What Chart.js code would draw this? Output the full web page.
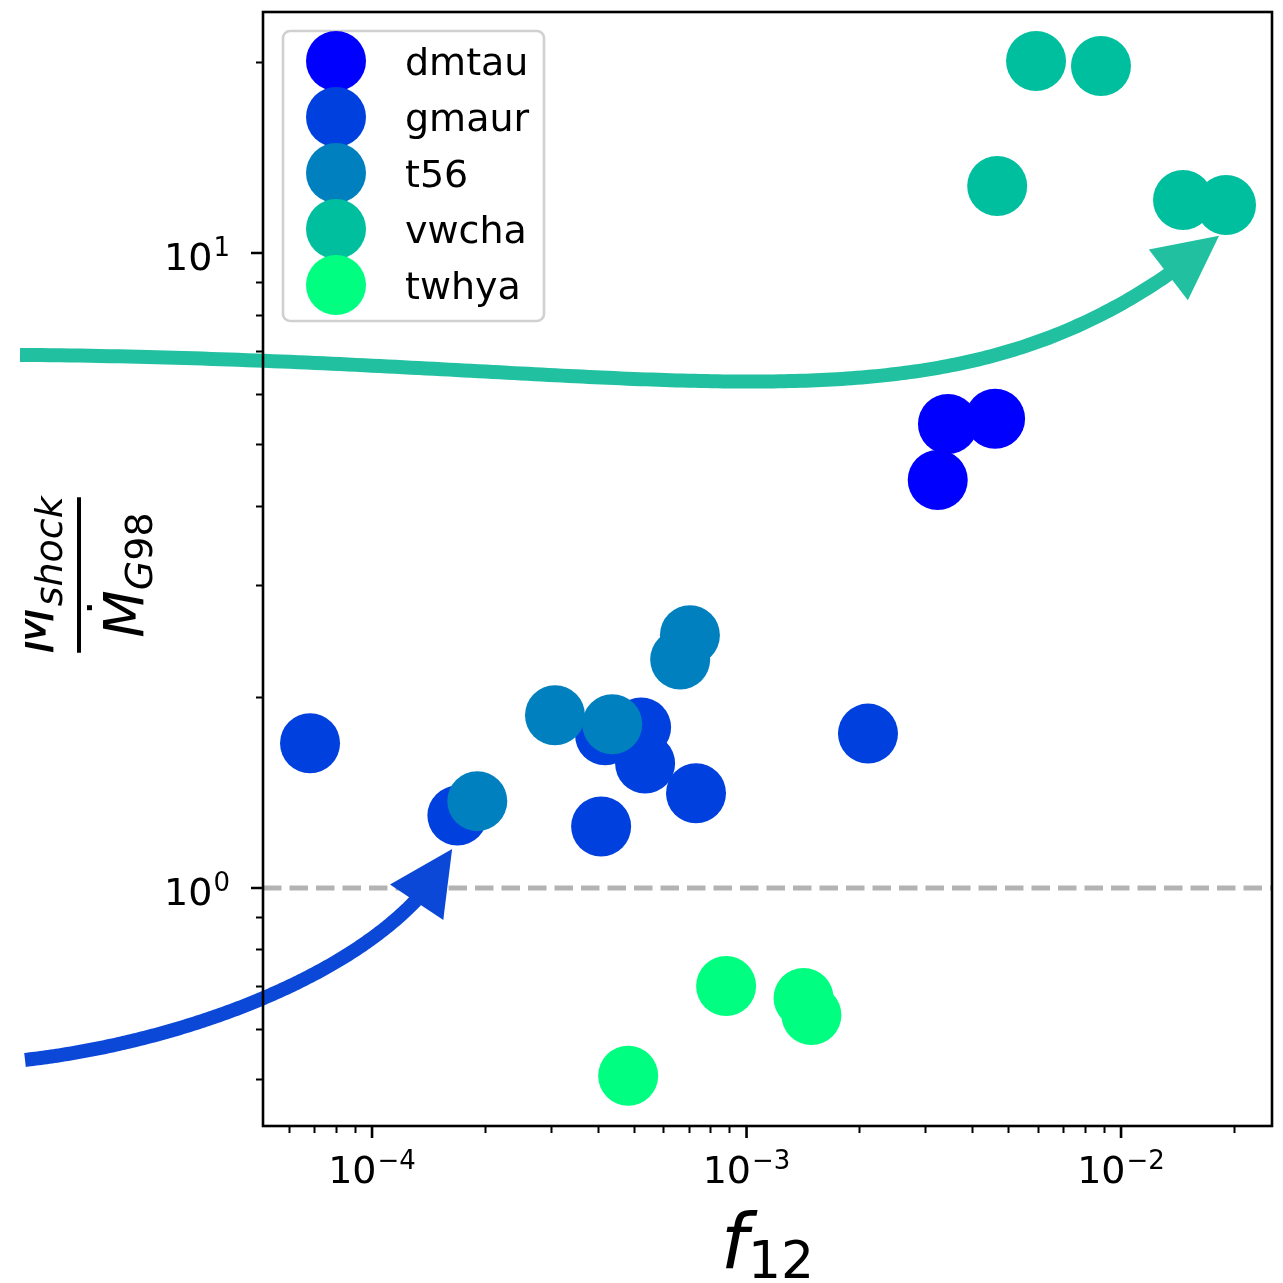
<!DOCTYPE html>
<html>
<head>
<meta charset="utf-8">
<script src="https://cdn.jsdelivr.net/npm/chart.js@4.4.1/dist/chart.umd.min.js"></script>
<style>
  html, body { margin: 0; padding: 0; background: #fff; }
  #wrap { width: 1283px; height: 1283px; position: relative; }
</style>
</head>
<body>
<div id="wrap"><canvas id="shockChart"></canvas></div>
<script>
const sources = ['dmtau', 'gmaur', 't56', 'vwcha', 'twhya'];
const sourceColors = ['#0000ff', '#0040df', '#0080bf', '#00bf9f', '#00ff80'];

// f12 filling factor and Mdot_shock / Mdot_G98 for each source
const dmtauF12 = [3.45e-3, 4.61e-3, 3.24e-3];
const dmtauRatio = [5.38, 5.48, 4.39];
const gmaurF12 = [6.83e-5, 1.69e-4, 4.09e-4, 4.19e-4, 5.23e-4, 5.36e-4, 7.33e-4, 2.11e-3];
const gmaurRatio = [1.69, 1.30, 1.25, 1.74, 1.79, 1.57, 1.41, 1.75];
const t56F12 = [1.91e-4, 3.08e-4, 4.38e-4, 6.65e-4, 7.06e-4];
const t56Ratio = [1.37, 1.87, 1.81, 2.29, 2.50];
const vwchaF12 = [5.93e-3, 8.84e-3, 4.67e-3, 1.464e-2, 1.907e-2];
const vwchaRatio = [20.06, 19.70, 12.75, 12.12, 11.90];
const twhyaF12 = [8.82e-4, 1.42e-3, 1.49e-3, 4.83e-4];
const twhyaRatio = [0.701, 0.671, 0.631, 0.506];

const xRange = [5.115e-5, 0.0253];
const yRange = [0.4218, 23.96];
const xMajor = [1e-4, 1e-3, 1e-2];
const xMajorExp = ['\u22124', '\u22123', '\u22122'];
const yMajor = [1, 10];
const yMajorExp = ['0', '1'];
const refLevel = 1;

// curved arrows, control points in data units (start, c1, c2, tip)
const vwchaArrowX = [1.148e-5, 7.51e-4, 3.49e-3, 1.827e-2];
const vwchaArrowY = [6.91, 6.78, 4.72, 10.64];
const gmaurArrowX = [1.184e-5, 3.47e-5, 1.188e-4, 1.636e-4];
const gmaurArrowY = [0.536, 0.576, 0.770, 1.152];

const allF12 = [dmtauF12, gmaurF12, t56F12, vwchaF12, twhyaF12];
const allRatio = [dmtauRatio, gmaurRatio, t56Ratio, vwchaRatio, twhyaRatio];

const FONT = '"DejaVu Sans"';

function drawArrow(ctx, xs, ys, sx, sy, color) {
  const p = xs.map((v, i) => [sx.getPixelForValue(v), sy.getPixelForValue(ys[i])]);
  const pts = [];
  for (let i = 0; i <= 200; i++) {
    const t = i / 200, m = 1 - t;
    const a = m * m * m, b = 3 * m * m * t, c = 3 * m * t * t, d = t * t * t;
    pts.push([a * p[0][0] + b * p[1][0] + c * p[2][0] + d * p[3][0],
              a * p[0][1] + b * p[1][1] + c * p[2][1] + d * p[3][1]]);
  }
  const tip = pts[pts.length - 1];
  const headLen = 64, headW = 64;
  let cut = pts.length - 1;
  while (cut > 0 && Math.hypot(pts[cut][0] - tip[0], pts[cut][1] - tip[1]) < headLen * 0.8) cut--;
  ctx.save();
  ctx.strokeStyle = color;
  ctx.fillStyle = color;
  ctx.lineWidth = 14;
  ctx.lineCap = 'butt';
  ctx.lineJoin = 'round';
  ctx.beginPath();
  ctx.moveTo(pts[0][0], pts[0][1]);
  for (let i = 1; i <= cut; i++) ctx.lineTo(pts[i][0], pts[i][1]);
  ctx.stroke();
  const dx = tip[0] - pts[cut][0], dy = tip[1] - pts[cut][1];
  const len = Math.hypot(dx, dy);
  const ux = dx / len, uy = dy / len;
  const bx = tip[0] - ux * headLen, by = tip[1] - uy * headLen;
  ctx.beginPath();
  ctx.moveTo(tip[0], tip[1]);
  ctx.lineTo(bx - uy * headW / 2, by + ux * headW / 2);
  ctx.lineTo(bx + uy * headW / 2, by - ux * headW / 2);
  ctx.closePath();
  ctx.fill();
  ctx.restore();
}

// "10" with a superscript exponent; align is 'center' or 'right'
function drawPower(ctx, exp, x, baseline, align) {
  ctx.font = '38px ' + FONT;
  const wBase = ctx.measureText('10').width;
  ctx.font = '26px ' + FONT;
  const wExp = ctx.measureText(exp).width;
  const total = wBase + 1 + wExp;
  const left = align === 'right' ? x - total : x - total / 2;
  ctx.textAlign = 'left';
  ctx.textBaseline = 'alphabetic';
  ctx.font = '38px ' + FONT;
  ctx.fillText('10', left, baseline);
  ctx.font = '26px ' + FONT;
  ctx.fillText(exp, left + wBase + 1, baseline - 14);
}

const axesPlugin = {
  id: 'axesDecor',
  beforeDatasetsDraw(chart) {
    const { ctx, chartArea: a, scales: { x, y } } = chart;
    const yy = y.getPixelForValue(refLevel);
    ctx.save();
    ctx.strokeStyle = '#b3b3b3';
    ctx.lineWidth = 5;
    ctx.setLineDash([18.5, 8]);
    ctx.beginPath();
    ctx.moveTo(a.left, yy);
    ctx.lineTo(a.right, yy);
    ctx.stroke();
    ctx.restore();
  },
  afterDatasetsDraw(chart) {
    const { ctx, chartArea: a, scales: { x, y } } = chart;

    drawArrow(ctx, vwchaArrowX, vwchaArrowY, x, y, '#20c0a0');
    drawArrow(ctx, gmaurArrowX, gmaurArrowY, x, y, '#0c48d8');

    ctx.save();
    ctx.fillStyle = '#000';
    ctx.strokeStyle = '#000';

    // minor ticks
    ctx.lineWidth = 2;
    ctx.beginPath();
    for (let e = -6; e <= -1; e++) {
      for (let k = 2; k <= 9; k++) {
        const v = k * Math.pow(10, e);
        if (v < xRange[0] || v > xRange[1]) continue;
        const px = Math.round(x.getPixelForValue(v)) + 0.5;
        ctx.moveTo(px, a.bottom);
        ctx.lineTo(px, a.bottom + 7);
      }
    }
    for (let e = -1; e <= 1; e++) {
      for (let k = 2; k <= 9; k++) {
        const v = k * Math.pow(10, e);
        if (v < yRange[0] || v > yRange[1]) continue;
        const py = Math.round(y.getPixelForValue(v)) + 0.5;
        ctx.moveTo(a.left, py);
        ctx.lineTo(a.left - 7, py);
      }
    }
    ctx.stroke();

    // major ticks and labels
    ctx.lineWidth = 2.6;
    ctx.beginPath();
    xMajor.forEach(v => {
      const px = x.getPixelForValue(v);
      ctx.moveTo(px, a.bottom);
      ctx.lineTo(px, a.bottom + 12);
    });
    yMajor.forEach(v => {
      const py = y.getPixelForValue(v);
      ctx.moveTo(a.left, py);
      ctx.lineTo(a.left - 12, py);
    });
    ctx.stroke();
    xMajor.forEach((v, i) => drawPower(ctx, xMajorExp[i], x.getPixelForValue(v), a.bottom + 57, 'center'));
    yMajor.forEach((v, i) => drawPower(ctx, yMajorExp[i], a.left - 33, y.getPixelForValue(v) + 17, 'right'));

    // frame
    ctx.lineWidth = 2.6;
    ctx.strokeRect(a.left, a.top, a.right - a.left, a.bottom - a.top);

    // legend
    const lx = 283, ly = 31, lw = 261, lh = 290;
    ctx.fillStyle = 'rgba(255,255,255,0.8)';
    ctx.strokeStyle = '#d0d0d0';
    ctx.lineWidth = 2.6;
    ctx.beginPath();
    ctx.roundRect(lx, ly, lw, lh, 7);
    ctx.fill();
    ctx.stroke();
    chart.data.datasets.forEach((ds, i) => {
      const cy = 61 + i * 56;
      ctx.fillStyle = ds.backgroundColor;
      ctx.beginPath();
      ctx.arc(336, cy, 30, 0, Math.PI * 2);
      ctx.fill();
      ctx.fillStyle = '#000';
      ctx.font = '38px ' + FONT;
      ctx.textAlign = 'left';
      ctx.textBaseline = 'alphabetic';
      ctx.fillText(ds.label, 405, cy + 14);
    });

    // x title: f_12
    ctx.fillStyle = '#000';
    ctx.font = 'italic 77px ' + FONT;
    const wf = ctx.measureText('f').width;
    ctx.font = '52px ' + FONT;
    const ws = ctx.measureText('12').width;
    const xl = (a.left + a.right) / 2 - (wf + ws) / 2;
    ctx.font = 'italic 77px ' + FONT;
    ctx.fillText('f', xl, 1268);
    ctx.font = '52px ' + FONT;
    ctx.fillText('12', xl + wf, 1278);

    // y title: Mdot_shock / Mdot_G98
    ctx.save();
    ctx.beginPath();
    ctx.rect(25, 0, 1283, 1283);
    ctx.clip();
    ctx.translate(79, (a.top + a.bottom) / 2 + 6);
    ctx.rotate(-Math.PI / 2);
    ctx.font = 'italic 55px ' + FONT;
    const wM = ctx.measureText('M').width;
    ctx.font = 'italic 38px ' + FONT;
    const wShock = ctx.measureText('shock').width;
    const wG = ctx.measureText('G').width;
    ctx.font = '38px ' + FONT;
    const w98 = ctx.measureText('98').width;
    const numW = wM + wShock, denW = wM + wG + w98;
    const barW = Math.max(numW, denW) - 2;
    ctx.fillRect(-barW / 2, -2, barW, 4);
    // numerator
    let u = -numW / 2;
    ctx.font = 'italic 55px ' + FONT;
    ctx.fillText('M', u, -26);
    ctx.fillRect(u + wM * 0.62 - 2, -26 - 54 - 2, 5, 5);
    ctx.font = 'italic 38px ' + FONT;
    ctx.fillText('shock', u + wM, -17);
    // denominator
    u = -denW / 2;
    ctx.font = 'italic 55px ' + FONT;
    ctx.fillText('M', u, 64);
    ctx.fillRect(u + wM * 0.62 - 2, 64 - 54 - 2, 5, 5);
    ctx.font = 'italic 38px ' + FONT;
    ctx.fillText('G', u + wM, 73);
    ctx.font = '38px ' + FONT;
    ctx.fillText('98', u + wM + wG, 73);
    ctx.restore();

    ctx.restore();
  }
};

const datasets = sources.map((name, i) => ({
  label: name,
  data: allF12[i].map((v, j) => ({ x: v, y: allRatio[i][j] })),
  backgroundColor: sourceColors[i],
  borderWidth: 0,
  pointRadius: 30,
  pointHoverRadius: 30,
  order: sources.length - 1 - i
}));

new Chart(document.getElementById('shockChart'), {
  type: 'scatter',
  data: { datasets },
  options: {
    responsive: true,
    maintainAspectRatio: false,
    animation: false,
    layout: { autoPadding: false, padding: { left: 263, top: 12, right: 11, bottom: 157 } },
    plugins: { legend: { display: false }, tooltip: { enabled: false } },
    scales: {
      x: { type: 'logarithmic', min: xRange[0], max: xRange[1], display: false },
      y: { type: 'logarithmic', min: yRange[0], max: yRange[1], display: false }
    }
  },
  plugins: [axesPlugin]
});
</script>
</body>
</html>
